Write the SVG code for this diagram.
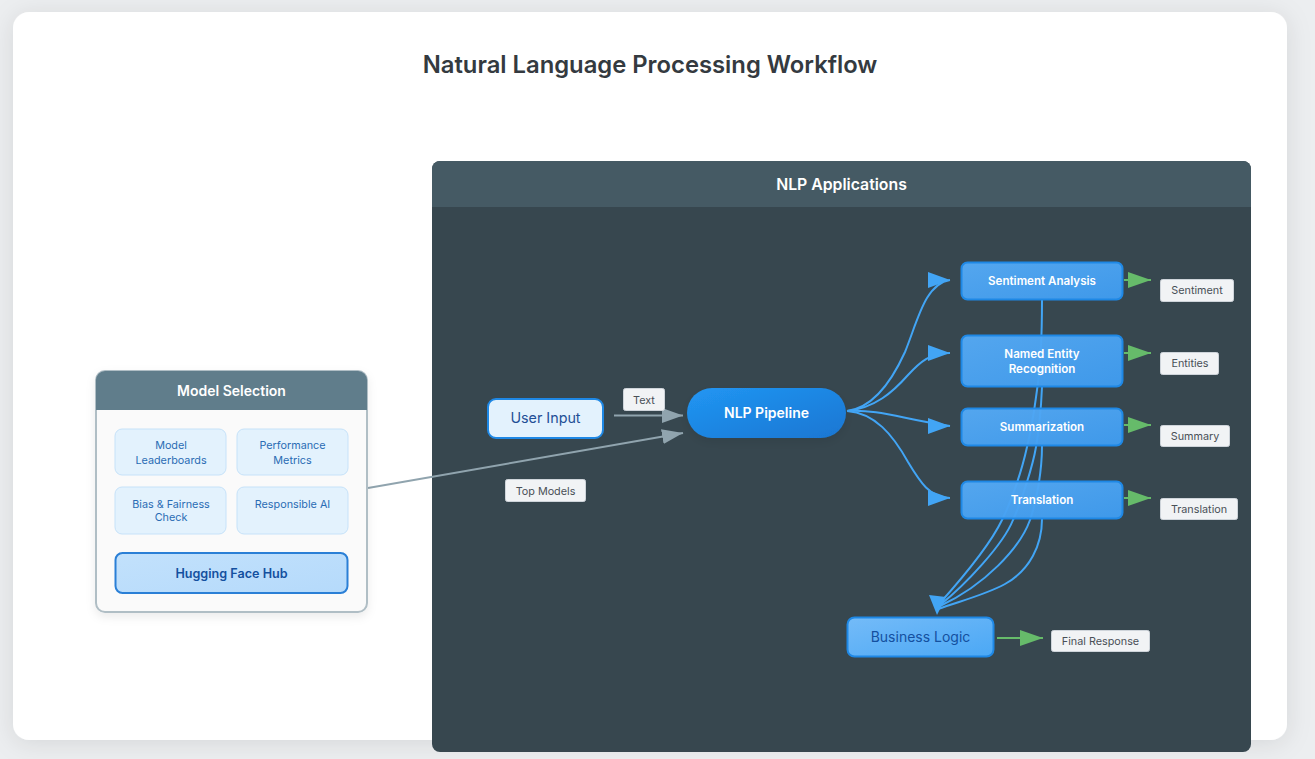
<svg xmlns="http://www.w3.org/2000/svg" width="1315" height="759" viewBox="0 0 1315 759">
<defs>
<linearGradient id="gBlue" x1="0" y1="0" x2="1" y2="1"><stop offset="0" stop-color="#55aaf5"/><stop offset="1" stop-color="#3f9cf0"/></linearGradient>
<linearGradient id="gBiz" x1="0" y1="0" x2="1" y2="1"><stop offset="0" stop-color="#74bbf8"/><stop offset="1" stop-color="#4ba8f5"/></linearGradient>
<linearGradient id="gPipe" x1="0" y1="0" x2="1" y2="1"><stop offset="0" stop-color="#2196f3"/><stop offset="1" stop-color="#1976d2"/></linearGradient>
<linearGradient id="gHub" x1="0" y1="0" x2="1" y2="1"><stop offset="0" stop-color="#c2e1fc"/><stop offset="1" stop-color="#b5dafb"/></linearGradient>
<filter id="soft" x="-20%" y="-20%" width="140%" height="150%"><feDropShadow dx="0" dy="4" stdDeviation="5" flood-color="#000" flood-opacity=".08"/></filter>
<filter id="card" x="-5%" y="-5%" width="110%" height="110%"><feDropShadow dx="0" dy="3" stdDeviation="12" flood-color="#000" flood-opacity=".1"/></filter>
<marker id="hBlue" markerUnits="userSpaceOnUse" markerWidth="23" markerHeight="16" refX="22" refY="8" orient="0"><path d="M0,0 L22,8 L0,16 Z" fill="#42a5f5"/></marker>
<marker id="hGreen" markerUnits="userSpaceOnUse" markerWidth="24" markerHeight="16" refX="23" refY="8" orient="0"><path d="M0,0 L23,8 L0,16 Z" fill="#66bb6a"/></marker>
<marker id="hGrey" markerUnits="userSpaceOnUse" markerWidth="22" markerHeight="15" refX="21" refY="7.5" orient="auto"><path d="M0,0 L21,7.5 L0,15 Z" fill="#90a4ae"/></marker>
</defs>
<style>
text{font-family:Inter,"Liberation Sans",sans-serif;text-anchor:middle}
.blue{fill:none;stroke:#42a5f5;stroke-width:2}
.fan{marker-end:url(#hBlue)}
.green{fill:none;stroke:#66bb6a;stroke-width:2;marker-end:url(#hGreen)}
.grey{fill:none;stroke:#90a4ae;stroke-width:2;marker-end:url(#hGrey)}
.app rect{fill:url(#gBlue);fill-opacity:.96;stroke:#1e88e5;stroke-width:2}
.app text{font-size:11.600px;font-weight:600;fill:#fff}
.tag rect{fill:#f1f3f5;stroke:#ced4da;stroke-width:1}
.tag text{font-size:10.800px;font-weight:400;fill:#495057}
.sub rect{fill:#e3f2fd;stroke:#c6e2f9;stroke-width:1}
.sub text{font-size:10.800px;fill:#2a6cb4}
</style>
<rect width="1315" height="759" fill="#eceef0"/>
<rect x="13" y="12" width="1274" height="728" rx="16" fill="#fff" filter="url(#card)"/>
<text x="650" y="73" font-size="23.800" font-weight="600" fill="#343a40">Natural Language Processing Workflow</text>

<g id="panel-apps">
<rect x="432" y="161" width="819" height="591" rx="8" fill="#37474f"/>
<path d="M432,207 V169 a8,8 0 0 1 8,-8 H1243 a8,8 0 0 1 8,8 V207 Z" fill="#455a64"/>
<text x="841.500" y="190" font-size="15.800" font-weight="600" fill="#fff">NLP Applications</text>
</g>

<g id="connectors">
<path class="grey" d="M614,415.500 H683"/>
<path class="grey" d="M368,488 L683,433"/>
<path class="blue fan" d="M847,411 C872,408 890,385 905,352 C918,320 925,284 950,280"/>
<path class="blue fan" d="M847,411 C875,408 893,392 908,375 C920,362 930,353 950,353"/>
<path class="blue fan" d="M847,411 C880,409 905,420 950,426"/>
<path class="blue fan" d="M847,411 C875,413 893,435 908,462 C920,482 930,498 950,498"/>
<path class="blue" d="M1042,300 C1042,340 1040,370 1037,390 C1033,420 1030,435 1027,447 C1022,470 1012,500 1002,520 C990,545 965,575 940,603"/>
<path class="blue" d="M1042,387 C1041,410 1039,430 1036,447 C1033,465 1022,500 1013,520 C1003,545 965,585 940,605"/>
<path class="blue" d="M1042,446 C1042,470 1037,500 1030,520 C1020,548 985,585 940,606"/>
<path class="blue" d="M1042,519 C1042,545 1030,570 1005,584 C985,595 960,601 938,609"/>
<polygon points="929,595 946,597 937,615" fill="#42a5f5"/>
<path class="green" d="M1124,280 H1151"/>
<path class="green" d="M1124,353 H1151"/>
<path class="green" d="M1124,425 H1151"/>
<path class="green" d="M1124,498 H1151"/>
<path class="green" d="M997,638 H1043"/>
</g>

<g id="model-selection">
<rect x="96" y="371" width="271" height="241" rx="9" fill="#fafafa" stroke="#b0bec5" stroke-width="2" filter="url(#soft)"/>
<path d="M96,410 V380 a9,9 0 0 1 9,-9 H358 a9,9 0 0 1 9,9 V410 Z" fill="#607d8b"/>
<text x="231.500" y="396" font-size="14" font-weight="600" fill="#fff">Model Selection</text>
</g>
<g id="model-leaderboards" class="sub"><rect x="115" y="429" width="111" height="46" rx="7"/><text x="171" y="449">Model</text><text x="171" y="464">Leaderboards</text></g>
<g id="performance-metrics" class="sub"><rect x="237" y="429" width="111" height="46" rx="7"/><text x="292.500" y="449">Performance</text><text x="292.500" y="464">Metrics</text></g>
<g id="bias-fairness" class="sub"><rect x="115" y="487" width="111" height="47" rx="7"/><text x="171" y="508">Bias &amp; Fairness</text><text x="171" y="521">Check</text></g>
<g id="responsible-ai" class="sub"><rect x="237" y="487" width="111" height="47" rx="7"/><text x="292.500" y="508">Responsible AI</text></g>
<g id="hugging-face-hub"><rect x="115.500" y="553" width="232" height="40" rx="7" fill="url(#gHub)" stroke="#2a7fd6" stroke-width="2"/><text x="231.500" y="578" font-size="12.600" font-weight="600" fill="#14509f">Hugging Face Hub</text></g>

<g id="user-input"><rect x="488" y="399" width="115" height="39" rx="8" fill="#e3f2fd" stroke="#1e88e5" stroke-width="2"/><text x="545.500" y="423" font-size="14.300" font-weight="400" fill="#1f4f96">User Input</text></g>
<g id="nlp-pipeline"><rect x="687" y="388" width="159" height="50" rx="25" fill="url(#gPipe)" filter="url(#soft)"/><text x="766.500" y="418" font-size="14" font-weight="600" fill="#fff">NLP Pipeline</text></g>

<g id="sentiment-analysis" class="app"><rect x="961.500" y="262.500" width="161" height="37" rx="6"/><text x="1042" y="285">Sentiment Analysis</text></g>
<g id="named-entity" class="app"><rect x="961.500" y="335.500" width="161" height="51" rx="6"/><text x="1042" y="358">Named Entity</text><text x="1042" y="373">Recognition</text></g>
<g id="summarization" class="app"><rect x="961.500" y="408.500" width="161" height="37" rx="6"/><text x="1042" y="431">Summarization</text></g>
<g id="translation" class="app"><rect x="961.500" y="481.500" width="161" height="37" rx="6"/><text x="1042" y="504">Translation</text></g>
<g id="business-logic"><rect x="847.500" y="617.500" width="146" height="39" rx="7" fill="url(#gBiz)" stroke="#1e88e5" stroke-width="2"/><text x="920.500" y="642" font-size="14" font-weight="400" fill="#14509f">Business Logic</text></g>

<g id="tag-text" class="tag"><rect x="623.500" y="388.500" width="41" height="22" rx="2"/><text x="644" y="404">Text</text></g>
<g id="tag-top-models" class="tag"><rect x="505.500" y="479.500" width="80" height="22" rx="2"/><text x="545.500" y="495">Top Models</text></g>
<g id="tag-sentiment" class="tag"><rect x="1160.500" y="279.500" width="73" height="22" rx="2"/><text x="1197" y="294">Sentiment</text></g>
<g id="tag-entities" class="tag"><rect x="1160.500" y="352.500" width="58" height="22" rx="2"/><text x="1190" y="367">Entities</text></g>
<g id="tag-summary" class="tag"><rect x="1160.500" y="425.500" width="69" height="21" rx="2"/><text x="1195" y="440">Summary</text></g>
<g id="tag-translation" class="tag"><rect x="1160.500" y="498.500" width="77" height="21" rx="2"/><text x="1199" y="513">Translation</text></g>
<g id="tag-final-response" class="tag"><rect x="1051.500" y="630.500" width="98" height="21" rx="2"/><text x="1100.500" y="645">Final Response</text></g>
</svg>
